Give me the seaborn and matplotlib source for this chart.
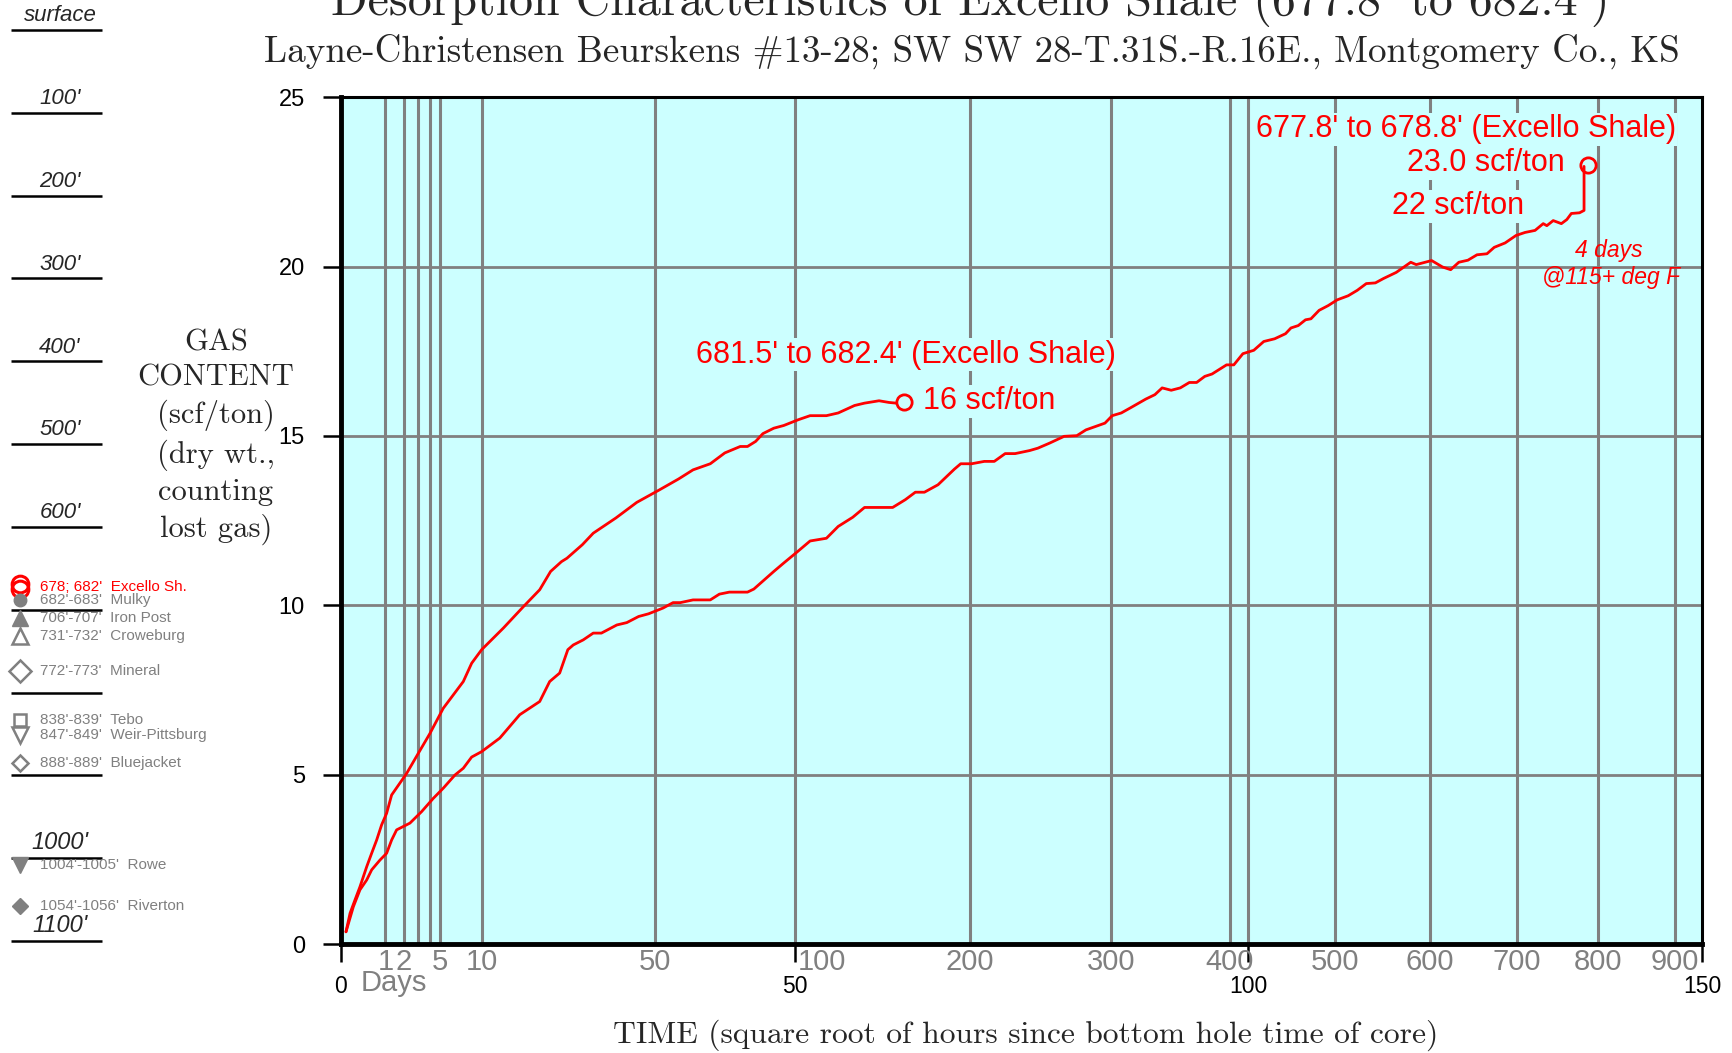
import numpy as np
import matplotlib
matplotlib.use("Agg")
import matplotlib.pyplot as plt
import seaborn as sns

# ─── Data ────────────────────────────────────────────────────────────────────
# x = square root of hours since bottom hole time, y = gas content (scf/ton)
upper_x = [0.55, 1.0, 1.54, 2.09, 2.83, 3.38, 3.93, 4.48, 5.03, 5.58,
           7.24, 8.52, 9.81, 11.27, 13.48, 14.4, 15.5, 17.9, 20.1, 21.9,
           23.1, 24.3, 24.9, 26.6, 27.8, 30.3, 32.6, 35.1, 37.2, 38.8,
           40.7, 42.3, 44.0, 44.8, 45.7, 46.5, 47.7, 48.8, 50.4, 51.7,
           53.5, 54.8, 56.6, 57.7, 59.3, 60.4, 61.2]
upper_y = [0.36, 0.91, 1.30, 1.69, 2.28, 2.68, 3.07, 3.52, 3.86, 4.40,
           5.04, 5.63, 6.22, 6.96, 7.75, 8.29, 8.69, 9.33, 9.96, 10.46,
           11.0, 11.29, 11.39, 11.79, 12.13, 12.58, 13.04, 13.41, 13.73, 14.0,
           14.18, 14.5, 14.69, 14.69, 14.84, 15.07, 15.23, 15.31, 15.48, 15.6,
           15.6, 15.68, 15.9, 15.97, 16.04, 15.99, 15.97]

lower_x = [0.55, 1.36, 2.09, 2.83, 3.38, 4.30, 5.03, 5.58, 6.13, 7.60,
           8.89, 10.17, 11.27, 12.56, 13.48, 14.4, 15.5, 17.5, 19.7, 21.9,
           23.0, 24.1, 25.0, 25.6, 26.7, 27.8, 28.7, 30.4, 31.5, 32.8,
           33.9, 35.5, 36.6, 37.4, 38.8, 40.7, 41.7, 42.8, 44.8, 45.5,
           47.7, 48.8, 50.2, 51.7, 53.5, 54.8, 56.4, 57.7, 60.8, 62.2,
           63.3, 64.3, 65.8, 67.6, 68.3, 69.5, 70.9, 72.0, 73.2, 74.3,
           75.9, 76.8, 78.1, 79.7, 81.1, 82.1, 84.2, 85.0, 86.0, 87.0,
           88.7, 89.7, 90.5, 91.5, 92.5, 93.5, 94.3, 95.2, 96.0, 97.6,
           98.4, 99.4, 100.6, 101.7, 102.9, 104.1, 104.7, 105.5, 106.3, 106.9,
           107.8, 108.8, 109.8, 111.0, 112.0, 113.0, 114.0, 114.9, 116.3, 117.9,
           118.5, 120.2, 121.4, 122.3, 123.2, 124.2, 125.2, 126.3, 127.1, 128.3,
           129.5, 130.5, 131.6, 132.5, 132.9, 133.6, 134.5, 135.1, 135.6, 136.5,
           137.0, 137.0]
lower_y = [0.36, 1.10, 1.60, 1.89, 2.19, 2.48, 2.68, 3.07, 3.37, 3.57,
           3.91, 4.30, 4.60, 4.99, 5.19, 5.52, 5.68, 6.08, 6.77, 7.16,
           7.75, 8.0, 8.69, 8.83, 8.98, 9.18, 9.18, 9.42, 9.49, 9.67,
           9.75, 9.92, 10.08, 10.08, 10.16, 10.16, 10.33, 10.39, 10.39, 10.48,
           11.0, 11.25, 11.56, 11.9, 11.98, 12.33, 12.6, 12.89, 12.89, 13.12,
           13.34, 13.34, 13.56, 14.02, 14.18, 14.18, 14.25, 14.25, 14.48, 14.48,
           14.57, 14.64, 14.79, 14.99, 15.01, 15.18, 15.38, 15.6, 15.68, 15.83,
           16.09, 16.22, 16.42, 16.35, 16.42, 16.58, 16.58, 16.76, 16.83, 17.1,
           17.1, 17.43, 17.53, 17.79, 17.87, 18.02, 18.19, 18.26, 18.43, 18.46,
           18.71, 18.85, 19.02, 19.14, 19.3, 19.5, 19.52, 19.65, 19.83, 20.13,
           20.06, 20.18, 19.99, 19.91, 20.13, 20.19, 20.35, 20.38, 20.57, 20.7,
           20.92, 21.01, 21.07, 21.27, 21.21, 21.36, 21.27, 21.39, 21.57, 21.59,
           21.66, 22.96]

end_x = [62.0, 137.4]
end_y = [16.0, 23.0]

grid_days = [1, 2, 3, 4, 5, 10, 50, 200, 300, 400, 500, 600, 700, 800, 900]
day_labels = [1, 2, 5, 10, 50, 100, 200, 300, 400, 500, 600, 700, 800, 900]
sqrt_hour_ticks = [0, 50, 100, 150]
gas_ticks = [0, 5, 10, 15, 20, 25]

# depth column on the left
depth_lines = [0, 100, 200, 300, 400, 500, 600, 700, 800, 900, 1000, 1100]
depth_label_text = ["surface", "100'", "200'", "300'", "400'", "500'", "600'", "1000'", "1100'"]
depth_label_at = [0, 100, 200, 300, 400, 500, 600, 1000, 1100]

formation_names = ["678; 682'  Excello Sh.", "682'-683'  Mulky", "706'-707'  Iron Post",
                   "731'-732'  Croweburg", "772'-773'  Mineral", "838'-839'  Tebo",
                   "847'-849'  Weir-Pittsburg", "888'-889'  Bluejacket",
                   "1004'-1005'  Rowe", "1054'-1056'  Riverton"]
formation_depth = [672, 688, 710, 732, 774, 833, 851, 885, 1008, 1058]

RED = "#ff0000"
GRAY = "#808080"
CYAN = "#ccffff"
SERIF = ["cmr10", "DejaVu Serif"]

sns.set_style("white")
plt.rcParams["font.family"] = ["Liberation Sans", "DejaVu Sans"]
plt.rcParams["axes.unicode_minus"] = False

fig = plt.figure(figsize=(17.32, 10.53), dpi=100)

# ─── Main chart ──────────────────────────────────────────────────────────────
ax = fig.add_axes([0.19688, 0.10351, 0.78580, 0.80408])
ax.set_facecolor(CYAN)
ax.set_xlim(0, 150)
ax.set_ylim(0, 25)

for d in grid_days:
    ax.axvline(np.sqrt(24 * d), color=GRAY, lw=2.2, zorder=1)
for h in [50, 100]:
    ax.axvline(h, color=GRAY, lw=2.2, zorder=1)
for g in gas_ticks[1:-1]:
    ax.axhline(g, color=GRAY, lw=2.0, zorder=1)

sns.lineplot(x=upper_x, y=upper_y, ax=ax, color=RED, lw=2.0,
             estimator=None, sort=False, zorder=3)
sns.lineplot(x=lower_x, y=lower_y, ax=ax, color=RED, lw=2.0,
             estimator=None, sort=False, zorder=3)
ax.plot(end_x, end_y, ls="none", marker="o", ms=11, mfc="none",
        mec=RED, mew=2, zorder=4)

box = dict(facecolor=CYAN, edgecolor="none", pad=1)
ax.text(62.3, 17.4, "681.5' to 682.4' (Excello Shale)", color=RED, fontsize=22,
        ha="center", va="center", bbox=box, zorder=2)
ax.text(64.1, 16.02, "16 scf/ton", color=RED, fontsize=22,
        ha="left", va="center", bbox=box, zorder=2)
ax.text(123.95, 24.05, "677.8' to 678.8' (Excello Shale)", color=RED, fontsize=22,
        ha="center", va="center", bbox=box, zorder=2)
ax.text(126.2, 23.06, "23.0 scf/ton", color=RED, fontsize=22,
        ha="center", va="center", bbox=box, zorder=2)
ax.text(123.1, 21.78, "22 scf/ton", color=RED, fontsize=22,
        ha="center", va="center", bbox=box, zorder=2)
ax.text(139.7, 20.48, "4 days", color=RED, fontsize=16.5, style="italic",
        ha="center", va="center", zorder=2)
ax.text(140.0, 19.67, "@115+ deg F", color=RED, fontsize=16.5, style="italic",
        ha="center", va="center", zorder=2)

ax.set_yticks(gas_ticks)
ax.set_xticks(sqrt_hour_ticks)
ax.set_xticklabels([str(t) for t in sqrt_hour_ticks])
ax.tick_params(axis="y", direction="out", length=13, width=1.8, pad=13,
               labelsize=17, left=True, colors="black")
ax.tick_params(axis="x", direction="out", length=13, width=1.8, pad=9,
               labelsize=16.5, bottom=True, colors="black")
for side, lw in [("left", 3.5), ("bottom", 3.5), ("top", 2.2), ("right", 2.2)]:
    ax.spines[side].set_visible(True)
    ax.spines[side].set_color("black")
    ax.spines[side].set_linewidth(lw)
    ax.spines[side].set_zorder(5)
ax.set_xlabel("")
ax.set_ylabel("")

# day labels along the bottom
trans = ax.get_xaxis_transform()
for d in day_labels:
    x = np.sqrt(24 * d)
    ha = "center"
    if d == 100:
        x, ha = 50.3, "left"
    ax.text(x, -0.0209, str(d), transform=trans, color=GRAY, fontsize=21,
            ha=ha, va="center", clip_on=False)
ax.text(2.16, -0.046, "Days", transform=trans, color=GRAY, fontsize=21,
        ha="left", va="center", clip_on=False)

# titles and axis captions
fig.text(0.5603, 1 - 15 / 1053, "Desorption Characteristics of Excello Shale (677.8' to 682.4')",
         ha="center", va="baseline", fontsize=34.5, family=SERIF)
fig.text(0.561, 1 - 61.7 / 1053,
         "Layne-Christensen Beurskens #13-28; SW SW 28-T.31S.-R.16E., Montgomery Co., KS",
         ha="center", va="baseline", fontsize=26.7, family=SERIF)
fig.text(0.1247, 0.585, "GAS\nCONTENT\n(scf/ton)\n(dry wt.,\ncounting\nlost gas)",
         ha="center", va="center", fontsize=22, family=SERIF, linespacing=1.36)
fig.text(0.592, 1 - 1043 / 1053, "TIME (square root of hours since bottom hole time of core)",
         ha="center", va="baseline", fontsize=22.7, family=SERIF)

# ─── Depth column ────────────────────────────────────────────────────────────
axd = fig.add_axes([0, 0, 303 / 1732, 1])
axd.set_xlim(0, 303)
axd.set_ylim((1053 - 29.8) / 0.8285, -29.8 / 0.8285)
axd.axis("off")
axd.patch.set_alpha(0)

axd.hlines(depth_lines, 11, 102, color="black", lw=1.8)
for txt, d in zip(depth_label_text, depth_label_at):
    big = d >= 1000
    axd.text(60, d - (19 if big else 17), txt, style="italic",
             fontsize=17 if big else 16, ha="center", va="center")

marker_styles = [
    dict(marker="o", ms=12, mfc="none", mec=RED, mew=2.2),
    dict(marker="o", ms=9, mfc=GRAY, mec=GRAY),
    dict(marker="^", ms=11, mfc=GRAY, mec=GRAY),
    dict(marker="^", ms=12, mfc="none", mec=GRAY, mew=1.8),
    dict(marker="D", ms=11.5, mfc="none", mec=GRAY, mew=1.8),
    dict(marker="s", ms=8.5, mfc="none", mec=GRAY, mew=1.8),
    dict(marker="v", ms=11, mfc="none", mec=GRAY, mew=1.8),
    dict(marker="D", ms=8, mfc="none", mec=GRAY, mew=1.8),
    dict(marker="v", ms=11, mfc=GRAY, mec=GRAY),
    dict(marker="D", ms=8, mfc=GRAY, mec=GRAY),
]
for i, (name, d) in enumerate(zip(formation_names, formation_depth)):
    col = RED if i == 0 else GRAY
    if i == 0:
        axd.plot([20, 20], [d - 3, d + 3], ls="none", **marker_styles[i])
    else:
        axd.plot([20], [d], ls="none", **marker_styles[i])
    axd.text(40, d, name, color=col, fontsize=11, ha="left", va="center")

fig.savefig("out.png", dpi=100)
